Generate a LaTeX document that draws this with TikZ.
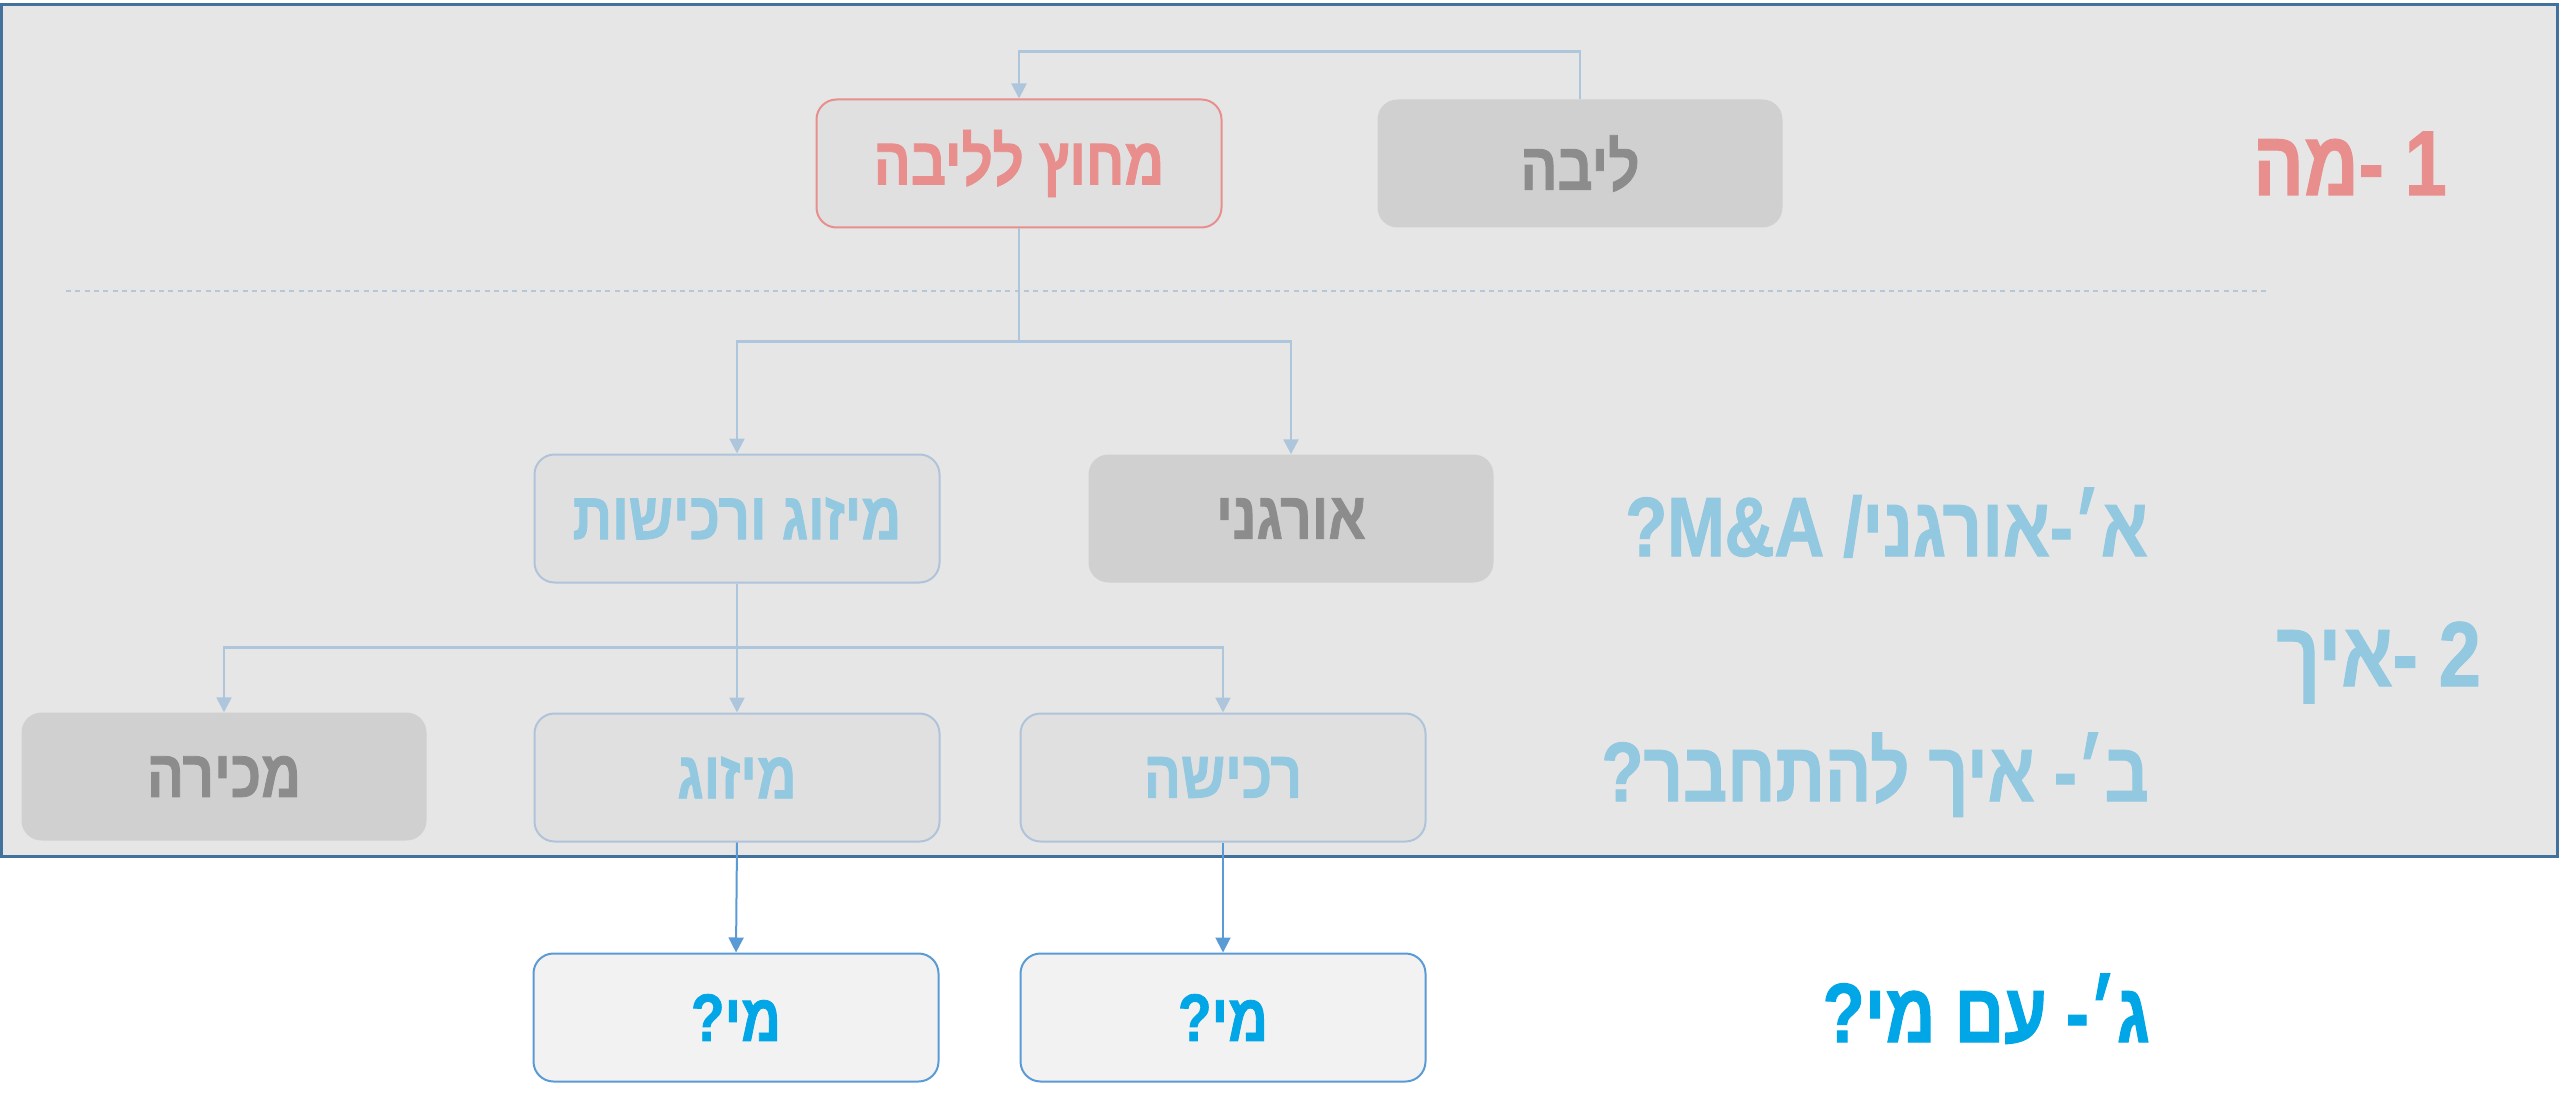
\documentclass[tikz,border=0pt]{standalone}
\usepackage{fontspec}
\usetikzlibrary{arrows.meta}
\TeXXeTstate=1
\newfontfamily\heb[Script=Hebrew,FakeStretch=0.82,FakeBold=1.2,UprightFont={* Bold}]{Liberation Sans}
\newcommand{\rl}[1]{\beginR#1\endR}
\definecolor{panelfill}{HTML}{E6E6E6}
\definecolor{panelborder}{HTML}{41719C}
\definecolor{grayfill}{HTML}{D0D0D0}
\definecolor{graytext}{HTML}{8C8C8C}
\definecolor{boxfill}{HTML}{E0E0E0}
\definecolor{redc}{HTML}{E88F8E}
\definecolor{bluetext}{HTML}{92C8E0}
\definecolor{lineblue}{HTML}{AEC6DC}
\definecolor{boxborder}{HTML}{AFC4DA}
\definecolor{bottomfill}{HTML}{F2F2F2}
\definecolor{bottomborder}{HTML}{5B9BD5}
\definecolor{brightblue}{HTML}{00A6E6}
\definecolor{dashc}{HTML}{B4C8DA}
\begin{document}
\begin{tikzpicture}[x=1pt,y=-1pt,
  box/.style={rounded corners=20pt, minimum width=405pt, minimum height=128pt, inner sep=0pt,
    font=\heb\fontsize{67}{70}\selectfont},
  graybox/.style={box, fill=grayfill, text=graytext},
  outbox/.style={box, fill=boxfill, draw=boxborder, line width=2pt, text=bluetext},
  redbox/.style={box, fill=boxfill, draw=redc, line width=2pt, text=redc},
  botbox/.style={box, fill=bottomfill, draw=bottomborder, line width=2pt, text=brightblue},
  lbl/.style={inner sep=0pt, anchor=base east, font=\heb\fontsize{84}{90}\selectfont},
  biglbl/.style={lbl, font=\heb\fontsize{92}{96}\selectfont},
  conn/.style={draw=lineblue, line width=2.5pt, -{Triangle[length=15pt,width=15pt]}},
  botconn/.style={draw=bottomborder, line width=2pt, -{Triangle[length=15pt,width=15pt]}},
]
\useasboundingbox (0,0) rectangle (2560,1099);
\fill[white] (0,0) rectangle (2560,1099);
\filldraw[fill=panelfill, draw=panelborder, line width=3pt] (1.5,5) rectangle (2557,856);
\draw[dashc, line width=1.5pt, dash pattern=on 5pt off 4.3pt] (66,291) -- (2266,291);

% row 1
\node[graybox] (liba) at (1580,163.5) {\rl{ליבה}};
\node[redbox] (mahutz) at (1019,163.5) {\rl{מחוץ לליבה}};
% row 2
\node[outbox] (ma) at (737,518.5) {\rl{מיזוג ורכישות}};
\node[graybox] (org) at (1291,518.5) {\rl{אורגני}};
% row 3
\node[graybox] (mechira) at (224,776.5) {\rl{מכירה}};
\node[outbox] (mizug) at (737,777.5) {\rl{מיזוג}};
\node[outbox] (rechisha) at (1223,777.5) {\rl{רכישה}};
% row 4
\node[botbox] (mi1) at (736,1017.5) {\rl{מי?}};
\node[botbox] (mi2) at (1223,1017.5) {\rl{מי?}};

% labels
\node[biglbl, text=redc] (l1) at (2447,195) {\rl{1 -מה}};
\node[lbl, text=bluetext] (la) at (2148,556) {\rl{א׳-אורגני/ \beginL M\&A\endL?}};
\node[biglbl, text=bluetext] (l2) at (2481,686) {\rl{2 -איך}};
\node[lbl, text=bluetext] (lb) at (2149,801) {\rl{ב׳- איך להתחבר?}};
\node[lbl, text=brightblue] (lc) at (2150,1042) {\rl{ג׳- עם מי?}};

% connectors
\draw[conn] (liba.north) -- ++(0,-48) -| (mahutz.north);
\draw[conn] (mahutz.south) -- ++(0,113) -| (ma.north);
\draw[conn] (mahutz.south) -- ++(0,113) -| (org.north);
\draw[conn] (ma.south) -- ++(0,64) -| (mechira.north);
\draw[conn] (ma.south) -- ++(0,64) -| (mizug.north);
\draw[conn] (ma.south) -- ++(0,64) -| (rechisha.north);
\draw[botconn] (mizug.south) -- (mi1.north);
\draw[botconn] (rechisha.south) -- (mi2.north);
\end{tikzpicture}
\end{document}
